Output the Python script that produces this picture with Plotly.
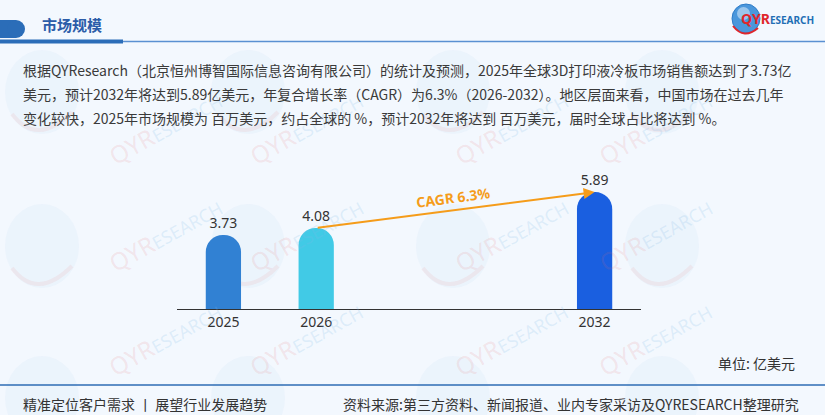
import plotly.graph_objects as go

# ---------------- data ----------------
years = ["2025", "2026", "2032"]
values = [3.73, 4.08, 5.89]
bar_colors = ["#3181d3", "#41cae6", "#1a5fe0"]
# category slots along the axis (two blank slots between 2026 and 2032)
slots = ["2025", "2026", "gap1", "gap2", "2032"]
cagr_label = "CAGR 6.3%"

title_text = "市场规模"
para_lines = [
    "根据QYResearch（北京恒州博智国际信息咨询有限公司）的统计及预测，2025年全球3D打印液冷板市场销售额达到了3.73亿",
    "美元，预计2032年将达到5.89亿美元，年复合增长率（CAGR）为6.3%（2026-2032）。地区层面来看，中国市场在过去几年",
    "变化较快，2025年市场规模为 百万美元，约占全球的 %，预计2032年将达到 百万美元，届时全球占比将达到 %。",
]
unit_text = "单位: 亿美元"
footer_left = "精准定位客户需求 丨 展望行业发展趋势"
footer_right = "资料来源:第三方资料、新闻报道、业内专家采访及QYRESEARCH整理研究"

W, H = 825, 415
CJK = "Noto Sans CJK SC, Microsoft YaHei, sans-serif"


def px(x):
    return x / W


def py(y):
    return 1 - y / H


fig = go.Figure()
fig.add_trace(go.Bar(
    x=years, y=values,
    marker=dict(color=bar_colors, line=dict(width=0)),
    width=0.38,
    text=[f"{v:.2f}" for v in values],
    textposition="outside",
    textfont=dict(size=14, color="#333333", family="Noto Sans, sans-serif"),
    cliponaxis=False,
    hoverinfo="skip",
))

shapes = []
annotations = []

# ---------- watermarks ----------
wm_cols = [42, 248, 453, 662]
wm_rows = [92, 246, 398]
for cy in wm_rows:
    for cx in wm_cols:
        shapes.append(dict(type="circle", xref="paper", yref="paper", layer="below",
                           x0=px(cx - 37), x1=px(cx + 37), y0=py(cy + 42), y1=py(cy - 42),
                           fillcolor="rgba(185,218,242,0.13)", line=dict(width=0)))
        shapes.append(dict(type="path", xref="paper", yref="paper", layer="below",
                           path=f"M{px(cx - 30)},{py(cy + 22)} Q{px(cx - 5)},{py(cy + 55)} {px(cx + 30)},{py(cy + 20)}",
                           line=dict(color="rgba(235,120,120,0.10)", width=4)))
        annotations.append(dict(xref="paper", yref="paper", x=px(cx + 58), y=py(cy - 12),
                                text="<span style='color:rgba(228,110,115,0.15);font-size:24px'>QYR</span>"
                                     "<span style='color:rgba(130,185,230,0.20);font-size:18px'>ESEARCH</span>",
                                showarrow=False, textangle=-29,
                                font=dict(family="Noto Sans, sans-serif")))

# ---------- header ----------
hdr_col = "#2b6db8"
shapes.append(dict(type="rect", xref="paper", yref="paper", x0=px(0), x1=px(16), y0=py(38), y1=py(20),
                   fillcolor=hdr_col, line=dict(width=0)))
shapes.append(dict(type="circle", xref="paper", yref="paper", x0=px(7), x1=px(25), y0=py(38), y1=py(20),
                   fillcolor=hdr_col, line=dict(width=0)))
shapes.append(dict(type="rect", xref="paper", yref="paper", x0=px(0), x1=px(123), y0=py(43.5), y1=py(39.5),
                   fillcolor=hdr_col, line=dict(width=0)))
shapes.append(dict(type="line", xref="paper", yref="paper", x0=px(123), x1=px(825), y0=py(41.5), y1=py(41.5),
                   line=dict(color="#5a90d2", width=1.5)))
annotations.append(dict(xref="paper", yref="paper", x=px(40), y=py(24), xanchor="left", yanchor="middle",
                        text="<b>" + title_text + "</b>", showarrow=False,
                        font=dict(size=15, color="#2b5ca8", family=CJK)))

# ---------- logo ----------
shapes.append(dict(type="circle", xref="paper", yref="paper", x0=px(732), x1=px(760), y0=py(33), y1=py(4),
                   fillcolor="#4a97dc", line=dict(color="#2f7cc8", width=1)))
shapes.append(dict(type="circle", xref="paper", yref="paper", x0=px(737), x1=px(750), y0=py(20), y1=py(7),
                   fillcolor="rgba(255,255,255,0.45)", line=dict(width=0)))
shapes.append(dict(type="path", xref="paper", yref="paper",
                   path=f"M{px(733)},{py(26)} Q{px(744)},{py(40)} {px(758)},{py(28)}",
                   line=dict(color="#e0262b", width=2)))
annotations.append(dict(xref="paper", yref="paper", x=px(739), y=py(19), xanchor="left", yanchor="middle",
                        text="<b><span style='color:#e0262b;font-size:14px'>QYR</span>"
                             "<span style='color:#1f6fb5;font-size:10px'>ESEARCH</span></b>",
                        showarrow=False, font=dict(family="Noto Sans, sans-serif")))

# ---------- paragraph ----------
for i, line in enumerate(para_lines):
    annotations.append(dict(xref="paper", yref="paper", x=px(21), y=py(70 + i * 24),
                            xanchor="left", yanchor="middle", text=line, showarrow=False,
                            font=dict(size=14, color="#3a3a3a", family=CJK)))

# ---------- CAGR arrow ----------
i0 = slots.index(years[1])
i1 = slots.index(years[2])
annotations.append(dict(xref="x", yref="y", axref="x", ayref="y",
                        x=i1, y=values[2], ax=i0, ay=values[1],
                        showarrow=True, arrowhead=2, arrowsize=1.1, arrowwidth=2,
                        arrowcolor="#f59c1a", standoff=0, startstandoff=0, text=""))
annotations.append(dict(xref="x", yref="y", x=(i0 + i1) / 2, y=(values[1] + values[2]) / 2,
                        yshift=13, xshift=-2, text="<b>" + cagr_label + "</b>", showarrow=False,
                        textangle=-7.5, font=dict(size=14, color="#f59c1a", family="Noto Sans, sans-serif")))

# ---------- unit & footer ----------
annotations.append(dict(xref="paper", yref="paper", x=px(797), y=py(363), xanchor="right", yanchor="middle",
                        text=unit_text, showarrow=False, font=dict(size=14, color="#333333", family=CJK)))
shapes.append(dict(type="line", xref="paper", yref="paper", x0=0, x1=1, y0=py(385), y1=py(385),
                   line=dict(color="#2e6db4", width=1.5)))
annotations.append(dict(xref="paper", yref="paper", x=px(21), y=py(404), xanchor="left", yanchor="middle",
                        text=footer_left, showarrow=False, font=dict(size=14, color="#333333", family=CJK)))
annotations.append(dict(xref="paper", yref="paper", x=px(801), y=py(404), xanchor="right", yanchor="middle",
                        text=footer_right, showarrow=False, font=dict(size=14, color="#333333", family=CJK)))

fig.update_layout(
    width=W, height=H,
    margin=dict(l=0, r=0, t=0, b=0),
    paper_bgcolor="#f3f8fe", plot_bgcolor="rgba(0,0,0,0)",
    showlegend=False,
    barcornerradius="50%",
    shapes=shapes, annotations=annotations,
    xaxis=dict(type="category", categoryorder="array", categoryarray=slots,
               range=[-0.5, len(slots) - 0.5],
               tickvals=years, ticktext=years,
               domain=[px(177), px(641)],
               showline=True, linecolor="#333333", linewidth=1,
               showgrid=False, zeroline=False, ticks="",
               tickfont=dict(size=14, color="#333333", family="Noto Sans, sans-serif")),
    yaxis=dict(range=[0, 6.5], domain=[py(309), py(180)], visible=False, showgrid=False),
)

fig.write_html(
    "out.html",
    config={"displayModeBar": False, "staticPlot": True},
    post_script="document.body.style.margin='0';document.body.style.overflow='hidden';"
                "document.body.style.background='#f3f8fe';",
)
